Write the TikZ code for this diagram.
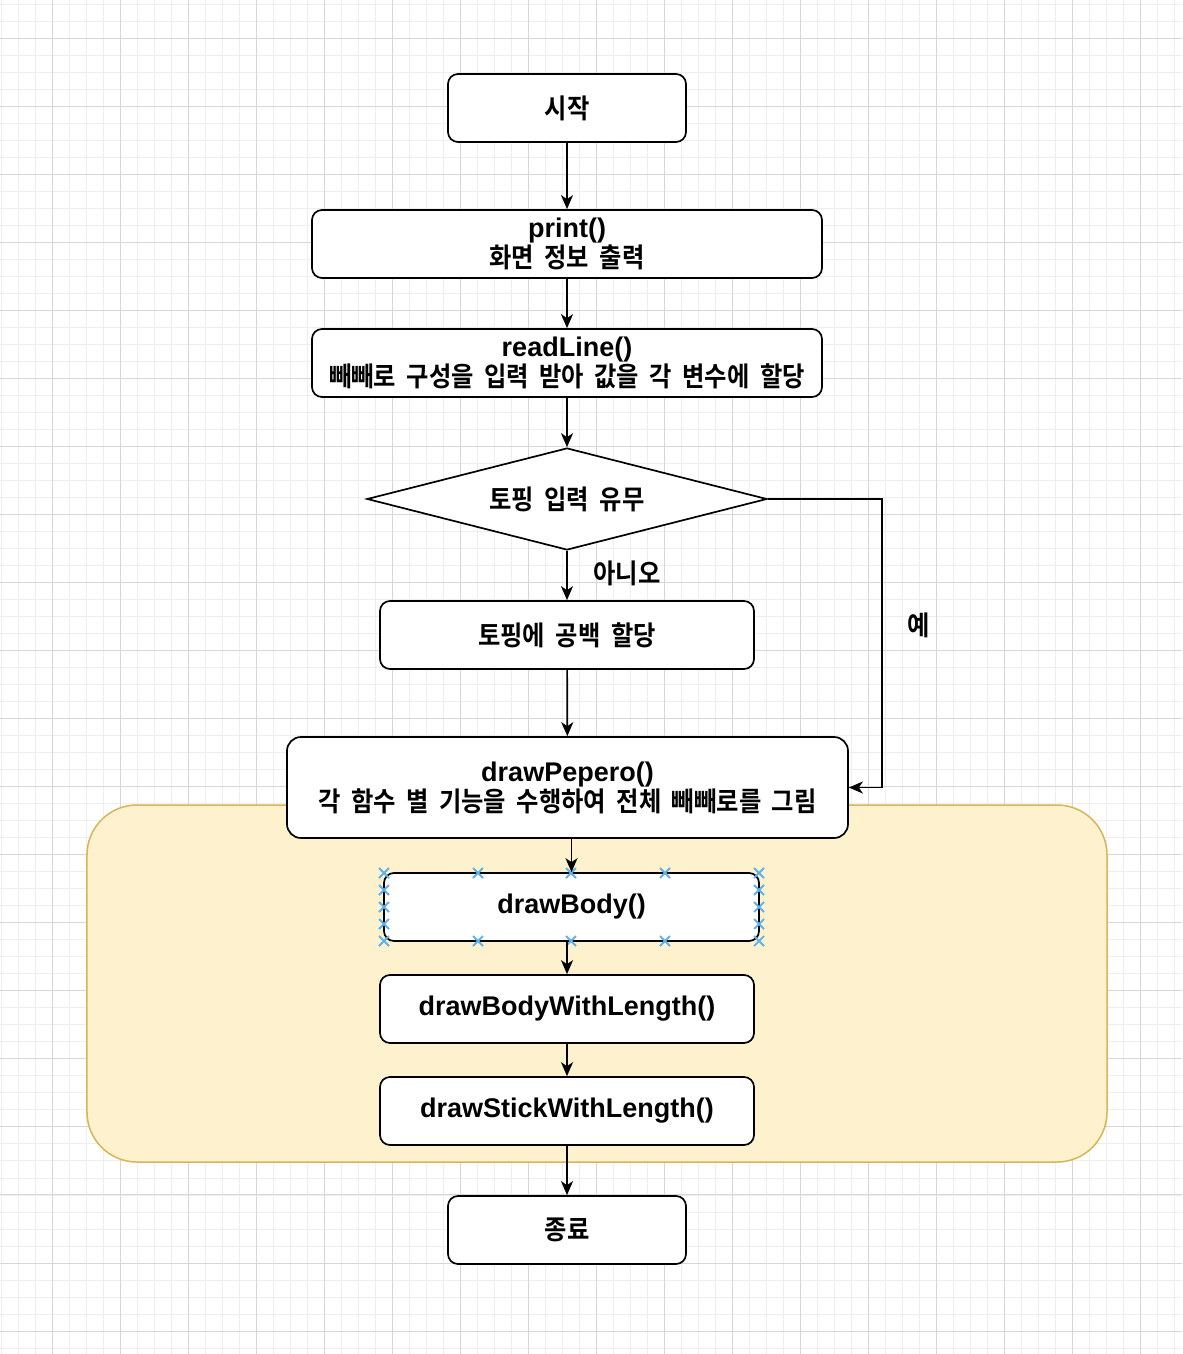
\documentclass[tikz,border=0pt]{standalone}
\usepackage{fontspec}
\setmainfont{Liberation Sans}
\newfontfamily\kr{Noto Sans CJK KR}[FakeStretch=0.9,WordSpace=1.9,BoldFont={Noto Sans CJK KR Bold}]
\usetikzlibrary{shapes.geometric,arrows.meta}
\definecolor{gridminor}{RGB}{238,238,238}
\definecolor{gridmajor}{RGB}{215,215,215}
\definecolor{regfill}{HTML}{FDF1CE}
\definecolor{regdraw}{HTML}{D6B656}
\definecolor{selblue}{HTML}{5DB1EE}
\tikzset{
  txt/.style={font=\fontsize{27bp}{31bp}\selectfont\bfseries},
  box/.style={txt, draw=black, fill=white, line width=1.7bp, rounded corners=10bp,
    minimum height=68bp, inner sep=0pt, align=center},
  flow/.style={line width=1.7bp, -{Stealth[length=14bp,width=12bp,inset=4bp]}},
  lbl/.style={txt, inner sep=0pt}
}
\begin{document}
\begin{tikzpicture}[x=1bp,y=-1bp]
\useasboundingbox (0,0) rectangle (1182,1354);
\fill[white] (0,0) rectangle (1182,1354);
% grid
\foreach \k in {0,...,69} \draw[gridminor, line width=1bp] (1+17.01*\k,0) -- (1+17.01*\k,1354);
\foreach \k in {0,...,79} \draw[gridminor, line width=1bp] (0,4.3+17.01*\k) -- (1182,4.3+17.01*\k);
\foreach \k in {0,...,17} \draw[gridmajor, line width=1bp] (52+68.04*\k,0) -- (52+68.04*\k,1354);
\foreach \k in {0,...,19} \draw[gridmajor, line width=1bp] (0,38.3+68.04*\k) -- (1182,38.3+68.04*\k);
% container
\node[draw=regdraw, fill=regfill, line width=1.5bp, rounded corners=50bp,
  minimum width=1020bp, minimum height=357bp, inner sep=0pt] (region) at (597,983.5) {};
% nodes
\node[box, minimum width=238bp] (start) at (567,108) {{\kr 시작}};
\node[box, minimum width=510bp] (print) at (567,244) {print()\\[-1bp]{\kr 화면 정보 출력}};
\node[box, minimum width=510bp] (read) at (567,363) {readLine()\\[-1bp]{\kr 빼빼로 구성을 입력 받아 값을 각 변수에 할당}};
\node[txt, diamond, draw=black, fill=white, line width=1.7bp, minimum width=400bp,
  minimum height=102bp, aspect=3.92, inner sep=0pt] (dec) at (567,499) {{\kr 토핑 입력 유무}};
\node[box, minimum width=374bp] (topping) at (567,635) {{\kr 토핑에 공백 할당}};
\node[box, minimum width=561bp, minimum height=101bp, rounded corners=14bp] (pepero) at (567.5,787.5)
  {drawPepero()\\[-1bp]{\kr 각 함수 별 기능을 수행하여 전체 빼빼로를 그림}};
\node[box, minimum width=375bp] (body) at (571.5,907) {drawBody()};
\node[box, minimum width=374bp] (bwl) at (567,1009) {drawBodyWithLength()};
\node[box, minimum width=374bp] (swl) at (567,1111) {drawStickWithLength()};
\node[box, minimum width=238bp] (end) at (567,1230) {{\kr 종료}};
% labels
\node[lbl] (no) at (627,573) {{\kr 아니오}};
\node[lbl] (yes) at (919,625) {{\kr 예}};
% selection markers
\foreach \x/\y in {384/873,478/873,571/873,665/873,759/873,
                   384/941,478/941,571/941,665/941,759/941,
                   384/890,384/907,384/924,759/890,759/907,759/924}
  \draw[selblue, line width=1.8bp] (\x-5,\y-5) -- (\x+5,\y+5) (\x-5,\y+5) -- (\x+5,\y-5);
% connectors
\coordinate (ybend) at (882,499);
\draw[flow] (start) -- (print);
\draw[flow] (print) -- (read);
\draw[flow] (read) -- (dec);
\draw[flow] (dec) -- (topping);
\draw[flow] (topping) -- (pepero);
\draw[flow] (dec.east) -- (ybend) |- (pepero.east);
\draw[flow] (body.north |- pepero.south) -- (body.north);
\draw[flow] (bwl.north |- body.south) -- (bwl.north);
\draw[flow] (bwl) -- (swl);
\draw[flow] (swl) -- (end);
\end{tikzpicture}
\end{document}
